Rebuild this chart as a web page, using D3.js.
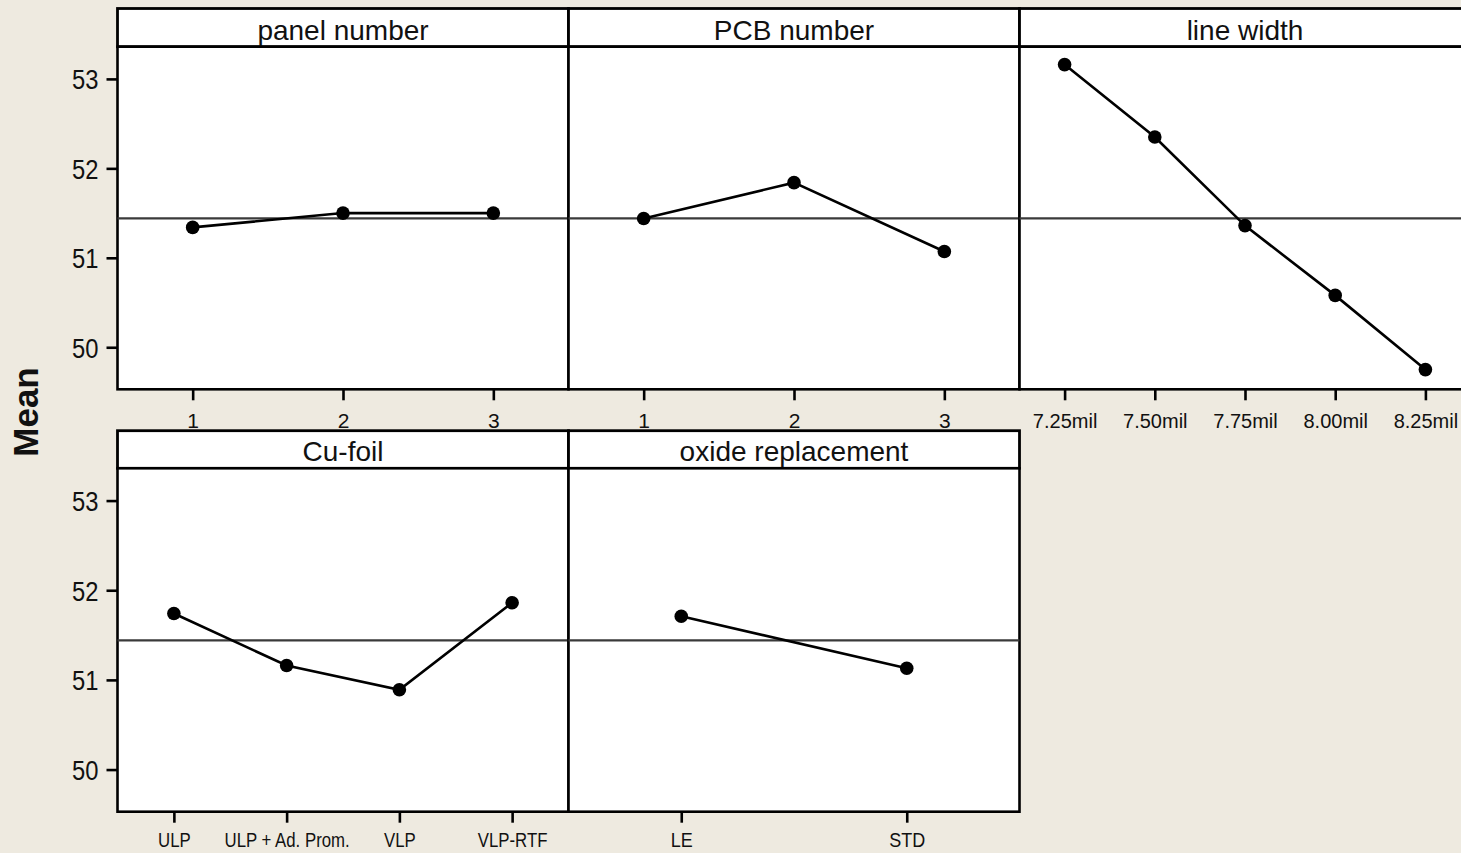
<!DOCTYPE html>
<html>
<head>
<meta charset="utf-8">
<script src="https://cdn.jsdelivr.net/npm/d3@7"></script>
<style>
  html, body { margin: 0; padding: 0; background: #EEEAE0; }
  svg { display: block; }
  text { font-family: "Liberation Sans", Arial, sans-serif; fill: #111; }
</style>
</head>
<body>
<svg id="chart" width="1461" height="853"></svg>
<script>
// Main effects plot for the means, one panel per factor
const factorNames = ["panel number", "PCB number", "line width", "Cu-foil", "oxide replacement"];

const panelLevels = ["1", "2", "3"];
const panelMeans  = [51.34, 51.50, 51.50];

const pcbLevels = ["1", "2", "3"];
const pcbMeans  = [51.44, 51.84, 51.07];

const widthLevels = ["7.25mil", "7.50mil", "7.75mil", "8.00mil", "8.25mil"];
const widthMeans  = [53.16, 52.35, 51.36, 50.58, 49.75];

const foilLevels = ["ULP", "ULP + Ad. Prom.", "VLP", "VLP-RTF"];
const foilMeans  = [51.74, 51.16, 50.89, 51.86];

const oxideLevels = ["LE", "STD"];
const oxideMeans  = [51.71, 51.13];

const grandMean = 51.44;
const yTickValues = [50, 51, 52, 53];
const yDomain = [49.53, 53.36];
const yAxisTitle = "Mean";

const levelSets = [panelLevels, pcbLevels, widthLevels, foilLevels, oxideLevels];
const meanSets  = [panelMeans, pcbMeans, widthMeans, foilMeans, oxideMeans];

// label styling per panel: font size and horizontal squeeze
const labelSize    = [21, 21, 20, 20, 20];
const labelSqueeze = [1, 1, 1, 0.84, 0.9];

// grid geometry
const left = 117.5, panelW = 451;
const rows = [
  { headTop: 8.5,   plotTop: 46.7,  plotBottom: 389.3, labelDrop: 39 },
  { headTop: 430.7, plotTop: 468.3, plotBottom: 811.7, labelDrop: 35 }
];
const cells = [
  { row: 0, col: 0 }, { row: 0, col: 1 }, { row: 0, col: 2 },
  { row: 1, col: 0 }, { row: 1, col: 1 }
];

const svg = d3.select("#chart");

cells.forEach((c, i) => {
  const r = rows[c.row];
  const x0 = left + c.col * panelW, x1 = x0 + panelW;
  const levels = levelSets[i], means = meanSets[i];

  const x = d3.scalePoint().domain(levels).range([x0, x1]).padding(0.5);
  const y = d3.scaleLinear().domain(yDomain).range([r.plotBottom, r.plotTop]);

  const g = svg.append("g");

  // header strip
  g.append("rect")
    .attr("x", x0).attr("y", r.headTop)
    .attr("width", panelW).attr("height", r.plotTop - r.headTop)
    .attr("fill", "#fff").attr("stroke", "#000").attr("stroke-width", 2.8);
  g.append("text")
    .attr("x", (x0 + x1) / 2).attr("y", r.plotTop - 7)
    .attr("text-anchor", "middle")
    .style("font-size", "28px")
    .text(factorNames[i]);

  // plot area
  g.append("rect")
    .attr("x", x0).attr("y", r.plotTop)
    .attr("width", panelW).attr("height", r.plotBottom - r.plotTop)
    .attr("fill", "#fff").attr("stroke", "#000").attr("stroke-width", 2.6);

  // grand mean reference
  g.append("line")
    .attr("x1", x0).attr("x2", x1)
    .attr("y1", y(grandMean)).attr("y2", y(grandMean))
    .attr("stroke", "#3a3a3a").attr("stroke-width", 2.2);

  // x axis
  const xAxis = d3.axisBottom(x).tickSize(11).tickPadding(0);
  const ax = g.append("g").attr("transform", `translate(0,${r.plotBottom})`).call(xAxis);
  ax.select(".domain").remove();
  ax.selectAll(".tick line").attr("stroke", "#000").attr("stroke-width", 2.6);
  ax.selectAll(".tick text")
    .attr("y", 0).attr("dy", 0)
    .attr("transform", `translate(0,${r.labelDrop}) scale(${labelSqueeze[i]},1)`)
    .style("font-size", labelSize[i] + "px")
    .style("font-family", '"Liberation Sans", Arial, sans-serif')
    .attr("fill", "#111");

  // y axis on first column
  if (c.col === 0) {
    const yAxis = d3.axisLeft(y).tickValues(yTickValues).tickSize(11).tickPadding(0)
      .tickFormat(d3.format("d"));
    const ay = g.append("g").attr("transform", `translate(${x0},0)`).call(yAxis);
    ay.select(".domain").remove();
    ay.selectAll(".tick line").attr("stroke", "#000").attr("stroke-width", 2.6);
    ay.selectAll(".tick text")
      .attr("x", 0).attr("dy", 0)
      .attr("transform", "translate(-19,10) scale(0.88,1)")
      .style("font-size", "27px")
      .style("font-family", '"Liberation Sans", Arial, sans-serif')
      .attr("fill", "#111");
  }

  // effect line and points
  const pts = levels.map((l, k) => [x(l), y(means[k])]);
  g.append("path")
    .attr("d", d3.line()(pts))
    .attr("fill", "none").attr("stroke", "#000").attr("stroke-width", 2.6);
  g.selectAll("circle.pt").data(pts).enter().append("circle")
    .attr("class", "pt")
    .attr("cx", d => d[0]).attr("cy", d => d[1]).attr("r", 6.8)
    .attr("fill", "#000");
});

// shared y-axis title
svg.append("text")
  .attr("transform", "translate(38,412) rotate(-90)")
  .attr("text-anchor", "middle")
  .style("font-size", "35px").style("font-weight", "bold")
  .text(yAxisTitle);
</script>
</body>
</html>
